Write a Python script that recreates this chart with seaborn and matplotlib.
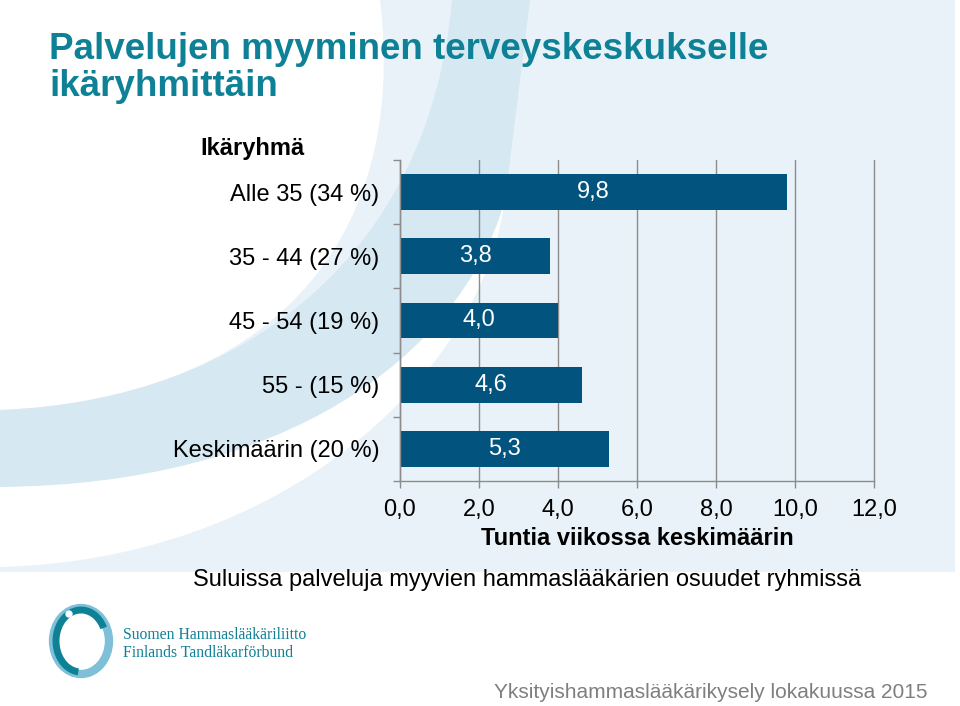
import matplotlib
matplotlib.use("Agg")
import matplotlib.pyplot as plt
from matplotlib.path import Path
from matplotlib.patches import PathPatch, Rectangle, Ellipse, Arc
import seaborn as sns
import pandas as pd

# Data
categories = ["Alle 35 (34 %)", "35 - 44 (27 %)", "45 - 54 (19 %)", "55 - (15 %)", "Keskimäärin (20 %)"]
hours = [9.8, 3.8, 4.0, 4.6, 5.3]
x_ticks = [0, 2, 4, 6, 8, 10, 12]

title = "Palvelujen myyminen terveyskeskukselle\nikäryhmittäin"
y_title = "Ikäryhmä"
x_title = "Tuntia viikossa keskimäärin"
note = "Suluissa palveluja myyvien hammaslääkärien osuudet ryhmissä"
footer = "Yksityishammaslääkärikysely lokakuussa 2015"
logo_lines = ["Suomen Hammaslääkäriliitto", "Finlands Tandläkarförbund"]

BAR = "#02547f"
TEAL = "#0e8197"
LIGHT = "#e8f2f8"
BAND = "#d6e8f2"
GRID = "#8c8c8c"
FS = 17

sns.set_theme(style="white")
plt.rcParams["font.family"] = ["Liberation Sans", "DejaVu Sans"]
plt.rcParams["text.color"] = "black"
plt.rcParams["xtick.color"] = "black"
plt.rcParams["ytick.color"] = "black"
plt.rcParams["axes.labelcolor"] = "black"

fig = plt.figure(figsize=(9.6, 7.06), dpi=100)

# background decoration in pixel coordinates
bg = fig.add_axes([0, 0, 1, 1])
bg.set_xlim(0, 960)
bg.set_ylim(706, 0)
bg.axis("off")
bg.add_patch(Rectangle((0, 0), 955, 572, color=LIGHT, lw=0))

def curve_patch(verts, codes, color):
    bg.add_patch(PathPatch(Path(verts, codes), facecolor=color, edgecolor="none"))

M, C, L, Z = Path.MOVETO, Path.CURVE4, Path.LINETO, Path.CLOSEPOLY
# white top-left area
curve_patch([(0, 0), (380, 0), (410, 250), (260, 400), (0, 410), (0, 0)],
            [M, L, C, C, C, Z], "white")
# darker band
curve_patch([(452, 0), (430, 250), (250, 400), (0, 410), (0, 487),
             (280, 485), (460, 360), (505, 200), (530, 0), (452, 0)],
            [M, C, C, C, L, C, C, C, L, Z], BAND)
# white swoosh
curve_patch([(0, 487), (280, 485), (460, 360), (505, 200),
             (480, 380), (280, 560), (0, 567), (0, 487)],
            [M, C, C, C, C, C, C, Z], "white")

# logo
bg.add_patch(Ellipse((81, 641), 56, 66, fill=False, ec="#7dc0d8", lw=6))
bg.add_patch(Arc((81, 641), 50, 62, theta1=95, theta2=330, ec=TEAL, lw=5))
bg.add_patch(Ellipse((69, 614), 6, 6, color="white"))
bg.text(123, 635, logo_lines[0], family="Liberation Serif", fontsize=11.3,
        color=TEAL, va="center", ha="left")
bg.text(123, 653, logo_lines[1], family="Liberation Serif", fontsize=11.3,
        color=TEAL, va="center", ha="left")

# texts
fig.text(49 / 960, 1 - 32 / 706, title, fontsize=26.5, fontweight="bold",
         color=TEAL, ha="left", va="top", linespacing=1.08)
fig.text(253 / 960, 1 - 148 / 706, y_title, fontsize=FS, fontweight="bold",
         ha="center", va="center")
fig.text(527 / 960, 1 - 580 / 706, note, fontsize=FS, ha="center", va="center")
fig.text(928 / 960, 1 - 693 / 706, footer, fontsize=15, ha="right", va="center", color="#7f7f7f")

# main chart
ax = fig.add_axes([400 / 960, 1 - 481 / 706, 474 / 960, 321 / 706])
ax.patch.set_alpha(0)
df = pd.DataFrame({"group": categories, "hours": hours})
sns.barplot(data=df, x="hours", y="group", orient="h", color=BAR,
            saturation=1, width=0.56, linewidth=0, ax=ax)

ax.set_xlim(0, 12)
ax.set_ylim(4.5, -0.5)
ax.set_xticks(x_ticks)
ax.set_xticklabels([f"{v:.1f}".replace(".", ",") for v in x_ticks], fontsize=FS)
ax.set_yticks(range(len(categories)))
ax.set_yticklabels(categories, fontsize=FS)
ax.set_yticks([i - 0.5 for i in range(len(categories) + 1)], minor=True)
ax.tick_params(axis="y", which="major", length=0, pad=15)
ax.tick_params(axis="y", which="minor", length=5, color=GRID, width=1, left=True)
ax.tick_params(axis="x", length=5, color=GRID, width=1, bottom=True, pad=8)
ax.xaxis.grid(True, color=GRID, lw=1)
for gl in ax.get_xgridlines():
    gl.set_clip_on(False)
ax.set_axisbelow(True)
for side in ["top", "right"]:
    ax.spines[side].set_visible(False)
for side in ["left", "bottom"]:
    ax.spines[side].set_color(GRID)
    ax.spines[side].set_linewidth(1)
ax.set_ylabel("")
ax.set_xlabel(x_title, fontsize=FS, fontweight="bold", labelpad=4)

for cont in ax.containers:
    ax.bar_label(cont, labels=[f"{v:.1f}".replace(".", ",") for v in hours],
                 label_type="center", color="white", fontsize=FS)

fig.savefig("out.png", dpi=100)
